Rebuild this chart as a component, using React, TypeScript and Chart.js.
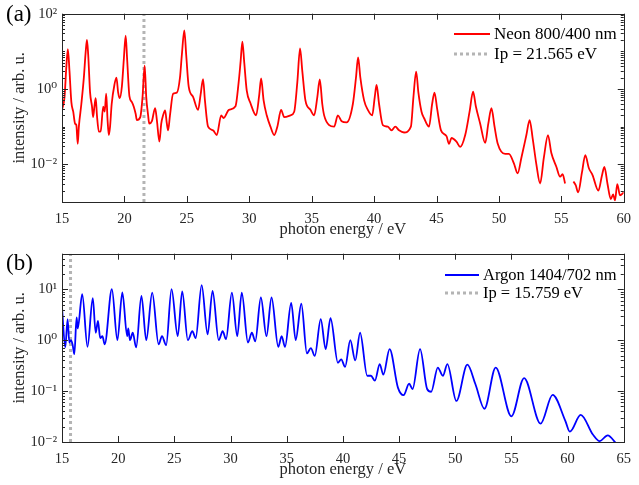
import React, { useEffect, useRef } from "react";
import { Chart, registerables } from "chart.js";

Chart.register(...registerables);

// ---------------- data ----------------
const neonEnergy = [
  15.0, 15.2, 15.35, 15.47, 15.6, 15.75, 15.9, 16.05, 16.15, 16.26, 16.35, 16.55, 16.75, 16.9, 17.0, 17.1,
  17.25, 17.4, 17.49, 17.6, 17.7, 17.8, 17.95, 18.1, 18.3, 18.42, 18.54, 18.65, 18.75, 18.85, 18.98, 19.2,
  19.36, 19.5, 19.62, 19.8, 19.95, 20.1, 20.22, 20.4, 20.6, 20.75, 20.9, 21.0, 21.27, 21.45, 21.62, 21.75,
  21.9, 21.99, 22.2, 22.46, 22.6, 22.8, 22.95, 23.1, 23.26, 23.4, 23.5, 23.65, 23.9, 24.2, 24.45, 24.6,
  24.8, 24.95, 25.15, 25.5, 25.9, 26.1, 26.3, 26.45, 26.7, 27.1, 27.4, 27.75, 27.95, 28.37, 28.9, 29.15,
  29.3, 29.45, 29.6, 29.8, 30.1, 30.55, 30.8, 30.95, 31.15, 31.4, 31.7, 32.0, 32.25, 32.55, 32.8, 33.3,
  33.6, 33.85, 34.07, 34.25, 34.5, 34.9, 35.2, 35.45, 35.65, 35.85, 36.0, 36.4, 36.8, 37.1, 37.4, 37.8,
  38.3, 38.55, 38.72, 38.9, 39.2, 39.5, 39.85, 40.05, 40.2, 40.4, 40.7, 41.1, 41.4, 41.7, 42.0, 42.4,
  42.95, 43.15, 43.37, 43.55, 43.8, 44.0, 44.4, 44.65, 44.84, 45.05, 45.36, 45.8, 46.0, 46.2, 46.6, 46.9,
  47.3, 47.65, 47.93, 48.15, 48.5, 48.9, 49.15, 49.4, 49.65, 49.9, 50.5, 50.8, 51.2, 51.5, 51.8, 52.2,
  52.46, 52.7, 53.0, 53.3, 53.6, 53.93, 54.2, 54.6, 54.9, 55.1, 55.3, 55.6, 55.97, 56.15, 56.35, 56.65,
  56.92, 57.2, 57.5, 57.97, 58.25, 58.45, 58.7, 58.96, 59.15, 59.3, 59.48, 59.7, 60.0,
];
const neonIntensity: (number | null)[] = [
  0.28, 0.6, 4, 11.5, 3, 0.45, 0.25, 0.12, 0.11, 0.035, 0.1, 0.4, 2, 10, 20, 8,
  0.8, 0.35, 0.18, 0.35, 0.57, 0.2, 0.074, 0.075, 0.34, 0.25, 0.75, 0.15, 0.06, 0.1, 0.4, 1.3,
  2.0, 0.8, 0.57, 1.2, 6, 26, 6, 0.65, 0.45, 0.34, 0.22, 0.15, 0.18, 0.6, 4.2, 0.6,
  0.2, 0.12, 0.14, 0.31, 0.15, 0.04, 0.12, 0.2, 0.27, 0.12, 0.08, 0.2, 0.75, 0.8, 2, 8,
  36, 8, 1.15, 0.62, 0.28, 0.7, 1.84, 0.5, 0.1, 0.08, 0.06, 0.2, 0.17, 0.28, 0.35, 1.5,
  5, 18, 5, 0.9, 0.42, 0.2, 0.7, 1.9, 0.5, 0.2, 0.1, 0.06, 0.1, 0.28, 0.18, 0.2,
  0.25, 1.5, 12, 3, 0.5, 0.28, 0.2, 0.6, 1.8, 0.4, 0.2, 0.11, 0.1, 0.2, 0.14, 0.13,
  0.4, 2, 6.9, 2, 0.5, 0.28, 0.2, 0.6, 1.28, 0.4, 0.11, 0.1, 0.08, 0.1, 0.08, 0.07,
  0.1, 0.6, 2.9, 0.8, 0.25, 0.17, 0.1, 0.4, 0.8, 0.3, 0.08, 0.056, 0.035, 0.05, 0.04, 0.029,
  0.06, 0.25, 0.85, 0.35, 0.12, 0.037, 0.12, 0.31, 0.1, 0.036, 0.019, 0.019, 0.0106, 0.0058, 0.015, 0.06,
  0.15, 0.05, 0.01, 0.0031, 0.015, 0.06, 0.02, 0.0086, 0.0047, 0.0055, 0.0031, null, 0.0035, 0.0028, 0.0018, 0.006,
  0.0176, 0.008, 0.0052, 0.002, 0.005, 0.0085, 0.003, 0.0012, 0.0016, 0.0011, 0.003, 0.0015, 0.0018,
];

const argonEnergy = [
  15.0, 15.29, 15.5, 15.65, 15.8, 15.95, 16.1, 16.3, 16.4, 16.8, 17.27, 17.74, 18.0, 18.2, 18.4, 18.6,
  18.8, 19.44, 19.93, 20.37, 20.8, 20.9, 21.05, 21.3, 21.6, 22.07, 22.5, 23.03, 23.6, 23.9, 24.27, 24.75,
  25.3, 25.7, 26.2, 26.6, 26.9, 27.43, 27.96, 28.4, 28.95, 29.3, 29.6, 30.12, 30.6, 31.0, 31.55, 31.9,
  32.2, 32.7, 33.2, 33.65, 34.25, 34.55, 34.85, 35.4, 35.8, 36.3, 36.8, 37.15, 37.5, 38.03, 38.47, 38.9,
  39.56, 39.85, 40.2, 40.66, 41.1, 41.53, 42.17, 42.5, 42.85, 43.28, 43.6, 44.16, 44.9, 45.4, 45.9, 46.2,
  46.87, 47.5, 47.86, 48.45, 48.9, 49.3, 50.1, 51.08, 51.8, 52.6, 53.6, 55.0, 56.13, 57.6, 58.67, 59.8,
  60.2, 61.17, 62.25, 62.85, 63.57, 64.3, 64.6,
];
const argonIntensity: (number | null)[] = [
  4.4, 0.72, 2.6, 0.9, 1.0, 0.8, 0.53, 2.8, 1.7, 8.0, 0.74, 6.7, 1.4, 2.4, 1.1, 1.2,
  0.83, 10.1, 1.0, 8.7, 1.2, 1.7, 1.0, 1.4, 0.72, 7.4, 1.0, 8.6, 0.83, 1.2, 0.8, 10.1,
  1.2, 9.1, 1.0, 1.5, 1.1, 12.1, 1.3, 9.3, 1.0, 1.5, 1.05, 8.6, 1.2, 8.6, 0.9, 1.4,
  0.95, 6.9, 1.2, 6.9, 0.74, 1.2, 0.74, 5.4, 1.0, 5.2, 0.55, 0.7, 0.49, 2.6, 0.67, 2.7,
  0.36, 0.42, 0.3, 1.0, 0.4, 1.4, 0.2, 0.2, 0.16, 0.34, 0.21, 0.67, 0.117, 0.083, 0.14, 0.11,
  0.67, 0.11, 0.097, 0.29, 0.2, 0.34, 0.064, 0.33, 0.136, 0.045, 0.29, 0.032, 0.18, 0.023, 0.084, 0.026,
  0.016, 0.034, 0.014, 0.0104, 0.0135, 0.0095, 0.008,
];

const neonIp = 21.565;
const argonIp = 15.759;
const neonXTicks = [15, 20, 25, 30, 35, 40, 45, 50, 55, 60];
const argonXTicks = [15, 20, 25, 30, 35, 40, 45, 50, 55, 60, 65];
const neonYTickExps = [-2, 0, 2];
const argonYTickExps = [-2, -1, 0, 1];

// ---------------- styling ----------------
const FONT = "'Liberation Serif', 'DejaVu Serif', serif";
const AXIS_COLOR = "#262626";
const IP_COLOR = "#b4b4b4";

const SUP: Record<string, string> = {
  "-": "\u207B", "0": "\u2070", "1": "\u00B9", "2": "\u00B2", "3": "\u00B3",
  "4": "\u2074", "5": "\u2075", "6": "\u2076", "7": "\u2077", "8": "\u2078", "9": "\u2079",
};
function decadeLabel(v: number): string {
  const e = Math.round(Math.log10(v));
  return "10" + String(e).split("").map((c) => SUP[c]).join("");
}

type PanelProps = {
  energies: number[];
  intensities: (number | null)[];
  color: string;
  seriesLabel: string;
  ip: number;
  ipLabel: string;
  xMin: number;
  xMax: number;
  xTicks: number[];
  yMin: number;
  yMax: number;
  yTickExps: number[];
  tag: string;
  tagY: number;
  legendX: number;
  legendLineW: number;
  legendY: number;
  legendGap: number;
  legendFont: number;
  height: number;
  top: number;
  xTitlePad: number;
};

function Panel(p: PanelProps) {
  const ref = useRef<HTMLCanvasElement | null>(null);
  useEffect(() => {
    if (!ref.current) return;
    const series = p.energies.map((x, i) => ({ x, y: p.intensities[i] }));
    const ipLine = [
      { x: p.ip, y: p.yMin },
      { x: p.ip, y: p.yMax },
    ];
    const framePlugin = {
      id: "frame",
      afterDraw(chart: any) {
        const ctx: CanvasRenderingContext2D = chart.ctx;
        const { left, right, top, bottom } = chart.chartArea;
        const xs = chart.scales.x;
        const ys = chart.scales.y;
        ctx.save();
        ctx.strokeStyle = AXIS_COLOR;
        ctx.lineWidth = 1;
        ctx.setLineDash([]);
        ctx.beginPath();
        for (const v of p.xTicks) {
          const px = Math.round(xs.getPixelForValue(v)) + 0.5;
          ctx.moveTo(px, bottom);
          ctx.lineTo(px, bottom - 6);
          ctx.moveTo(px, top);
          ctx.lineTo(px, top + 6);
        }
        const e0 = Math.floor(Math.log10(p.yMin));
        const e1 = Math.ceil(Math.log10(p.yMax));
        for (let e = e0; e <= e1; e++) {
          for (let m = 1; m <= 9; m++) {
            const v = m * Math.pow(10, e);
            if (v < p.yMin * 0.999 || v > p.yMax * 1.001) continue;
            const major = m === 1 && p.yTickExps.includes(e);
            const len = major ? 6 : 3;
            const py = Math.round(ys.getPixelForValue(v)) + 0.5;
            ctx.moveTo(left, py);
            ctx.lineTo(left + len, py);
            ctx.moveTo(right, py);
            ctx.lineTo(right - len, py);
          }
        }
        ctx.stroke();
        ctx.strokeRect(Math.round(left) + 0.5, Math.round(top) + 0.5, Math.round(right - left), Math.round(bottom - top));
        // legend
        ctx.font = `${p.legendFont}px ${FONT}`;
        ctx.textBaseline = "middle";
        ctx.textAlign = "left";
        chart.data.datasets.forEach((ds: any, i: number) => {
          const y = p.legendY + i * p.legendGap;
          ctx.strokeStyle = ds.borderColor;
          ctx.lineWidth = ds.borderWidth;
          ctx.setLineDash(ds.borderDash || []);
          ctx.beginPath();
          ctx.moveTo(p.legendX, y);
          ctx.lineTo(p.legendX + p.legendLineW, y);
          ctx.stroke();
          ctx.setLineDash([]);
          ctx.fillStyle = "#000";
          ctx.fillText(ds.label, p.legendX + p.legendLineW + 4, y + 1);
        });
        // panel tag
        ctx.font = `23px ${FONT}`;
        ctx.fillStyle = "#000";
        ctx.fillText(p.tag, 6, p.tagY);
        ctx.restore();
      },
    };

    const chart = new Chart(ref.current, {
      type: "line",
      data: {
        datasets: [
          {
            label: p.seriesLabel,
            data: series as any,
            borderColor: p.color,
            borderWidth: 1.8,
            pointRadius: 0,
            cubicInterpolationMode: "monotone",
            spanGaps: false,
            fill: false,
          },
          {
            label: p.ipLabel,
            data: ipLine as any,
            borderColor: IP_COLOR,
            borderWidth: 3,
            borderDash: [3, 3],
            pointRadius: 0,
            fill: false,
          },
        ],
      },
      options: {
        animation: false,
        responsive: false,
        maintainAspectRatio: false,
        devicePixelRatio: 1,
        layout: { padding: { top: 13, right: 6, left: 0, bottom: 0 } },
        plugins: { legend: { display: false }, tooltip: { enabled: false } },
        scales: {
          x: {
            type: "linear",
            min: p.xMin,
            max: p.xMax,
            afterBuildTicks: (s: any) => {
              s.ticks = p.xTicks.map((v) => ({ value: v }));
            },
            afterFit: (s: any) => {
              s.height = p.height - 202;
            },
            grid: { display: false, drawTicks: false },
            border: { display: false },
            ticks: {
              autoSkip: false,
              maxRotation: 0,
              padding: 8,
              color: AXIS_COLOR,
              font: { family: FONT, size: 14.5 },
              callback: (v: any) => String(v),
            },
            title: {
              display: true,
              text: "photon energy / eV",
              color: AXIS_COLOR,
              font: { family: FONT, size: 16.5 },
              padding: { top: 0, bottom: p.xTitlePad },
            },
          },
          y: {
            type: "logarithmic",
            min: p.yMin,
            max: p.yMax,
            afterBuildTicks: (s: any) => {
              s.ticks = p.yTickExps.map((e) => ({ value: Math.pow(10, e) }));
            },
            afterFit: (s: any) => {
              s.width = 62;
            },
            grid: { display: false, drawTicks: false },
            border: { display: false },
            ticks: {
              autoSkip: false,
              padding: 5,
              color: AXIS_COLOR,
              font: { family: FONT, size: 14.5 },
              callback: (v: any) => decadeLabel(Number(v)),
            },
            title: {
              display: true,
              text: "intensity / arb. u.",
              color: AXIS_COLOR,
              font: { family: FONT, size: 16.5 },
              padding: { top: 10, bottom: 0 },
            },
          },
        },
      } as any,
      plugins: [framePlugin],
    });
    return () => chart.destroy();
  }, []);
  return (
    <canvas
      ref={ref}
      width={639}
      height={p.height}
      style={{ position: "absolute", left: 0, top: p.top, width: 639, height: p.height, display: "block" }}
    />
  );
}

export default function App() {
  return (
    <div style={{ position: "fixed", left: 0, top: 0, width: 639, height: 485, background: "#fff", overflow: "hidden" }}>
      <Panel
        energies={neonEnergy}
        intensities={neonIntensity}
        color="#ff0000"
        seriesLabel="Neon 800/400 nm"
        ip={neonIp}
        ipLabel="Ip = 21.565 eV"
        xMin={15}
        xMax={60}
        xTicks={neonXTicks}
        yMin={1e-3}
        yMax={1e2}
        yTickExps={neonYTickExps}
        tag="(a)"
        tagY={15}
        legendX={454}
        legendLineW={36}
        legendY={34}
        legendGap={20}
        legendFont={17}
        height={240}
        top={0}
        xTitlePad={0}
      />
      <Panel
        energies={argonEnergy}
        intensities={argonIntensity}
        color="#0000ff"
        seriesLabel="Argon 1404/702 nm"
        ip={argonIp}
        ipLabel="Ip = 15.759 eV"
        xMin={15}
        xMax={65}
        xTicks={argonXTicks}
        yMin={1e-2}
        yMax={50}
        yTickExps={argonYTickExps}
        tag="(b)"
        tagY={24}
        legendX={445}
        legendLineW={34}
        legendY={35}
        legendGap={18}
        legendFont={16.5}
        height={245}
        top={240}
        xTitlePad={5}
      />
    </div>
  );
}
